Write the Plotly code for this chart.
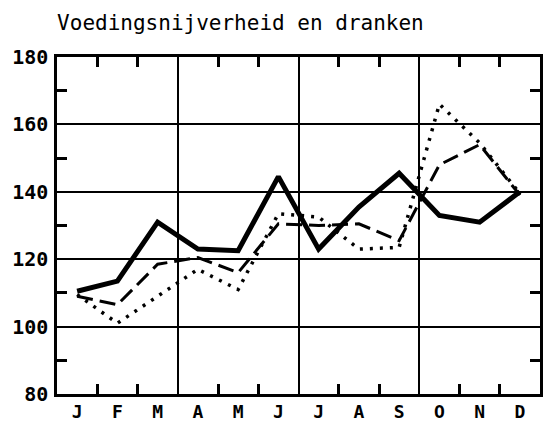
import plotly.graph_objects as go

months = ["J", "F", "M", "A", "M", "J", "J", "A", "S", "O", "N", "D"]
month_pos = [0.5, 1.5, 2.5, 3.5, 4.5, 5.5, 6.5, 7.5, 8.5, 9.5, 10.5, 11.5]

series_solid = [110.5, 113.5, 131, 123, 122.5, 144.5, 123, 135.5, 145.5, 133, 131, 140]
series_dashed = [109, 106.5, 118.5, 120.5, 116, 130.5, 130, 130.5, 125.5, 148, 154, 139]
series_dotted = [109.5, 101, 109, 117, 111, 133.5, 132.5, 123, 123.5, 166, 154.5, 139.5]

y_ticks = [80, 100, 120, 140, 160, 180]
y_minor = [90, 110, 130, 150, 170]
x_minor = [1, 2, 4, 5, 7, 8, 10, 11]
x_grid = [3, 6, 9]

title = "Voedingsnijverheid en dranken"

fig = go.Figure()
fig.add_trace(go.Scatter(x=month_pos, y=series_dotted, mode="lines",
                         line=dict(color="black", width=3.5, dash="3px,7px"),
                         xaxis="x2", yaxis="y"))
fig.add_trace(go.Scatter(x=month_pos, y=series_dashed, mode="lines",
                         line=dict(color="black", width=3, dash="16px,7px"),
                         xaxis="x", yaxis="y2"))
fig.add_trace(go.Scatter(x=month_pos, y=series_solid, mode="lines",
                         line=dict(color="black", width=5)))

y_font = dict(family="DejaVu Sans Mono", size=20, color="black", weight="bold")
x_font = dict(family="DejaVu Sans Mono", size=18, color="black", weight="bold")
tick_style = dict(ticks="inside", ticklen=10, tickwidth=2.5, tickcolor="black")

fig.update_layout(
    width=544, height=423,
    margin=dict(l=57, r=4, t=57, b=29, autoexpand=False),
    paper_bgcolor="white", plot_bgcolor="white",
    showlegend=False,
    title=dict(text=title, x=0.105, xanchor="left", y=1 - 23 / 423, yanchor="middle",
               yref="container",
               font=dict(family="DejaVu Sans Mono", size=21, color="black")),
    xaxis=dict(range=[0, 12], tickvals=month_pos, ticktext=months, ticks="",
               showgrid=False, zeroline=False, showline=True, linewidth=2.5,
               linecolor="black", mirror=True, tickfont=x_font, automargin=False,
               ticklabelstandoff=0,
               minor=dict(tickvals=x_minor, showgrid=False, **tick_style)),
    xaxis2=dict(range=[0, 12], overlaying="x", matches="x", anchor="y", side="top",
                tickvals=x_minor, showticklabels=False, showgrid=False,
                zeroline=False, showline=False, automargin=False,
                minor=dict(tickvals=x_grid, ticks="", showgrid=True,
                           gridcolor="black", gridwidth=2),
                **tick_style),
    yaxis=dict(range=[80, 180], tickvals=y_ticks, ticks="", showgrid=True,
               gridcolor="black", gridwidth=2, zeroline=False, showline=True,
               linewidth=2.5, linecolor="black", mirror=True, tickfont=y_font,
               ticklabelstandoff=2, automargin=False,
               minor=dict(tickvals=y_minor, showgrid=False, **tick_style)),
    yaxis2=dict(range=[80, 180], overlaying="y", matches="y", anchor="x", side="right",
                tickvals=y_minor, showticklabels=False, showgrid=False,
                zeroline=False, showline=False, automargin=False, **tick_style),
)

fig.write_html("out.html", config={"displayModeBar": False},
               post_script="document.body.style.margin='0';")
